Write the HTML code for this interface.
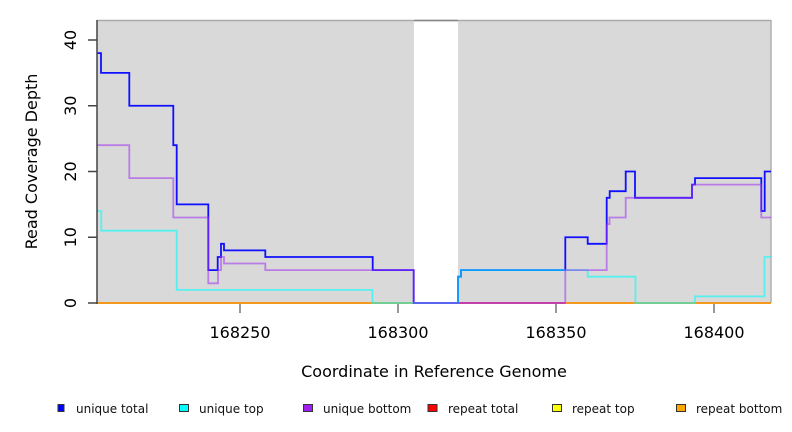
<!DOCTYPE html>
<html><head><meta charset="utf-8"><style>
html,body{margin:0;padding:0;background:#fff;}
svg{display:block;font-family:"DejaVu Sans","Liberation Sans",sans-serif;}
</style></head><body>
<svg width="792" height="432" viewBox="0 0 792 432" xmlns="http://www.w3.org/2000/svg">
<!-- background regions -->
<rect x="97" y="20" width="317" height="283" fill="#d9d9d9"/>
<rect x="458" y="20" width="313" height="283" fill="#d9d9d9"/>
<line x1="97" y1="20.5" x2="771" y2="20.5" stroke="#ababab" stroke-width="1.5"/>
<line x1="414" y1="20.5" x2="458" y2="20.5" stroke="#888" stroke-width="1.5"/>
<line x1="771" y1="20" x2="771" y2="303" stroke="#b0b0b0" stroke-width="1.5"/>

<!-- repeat lines at 0 -->
<line x1="97" y1="303" x2="771" y2="303" stroke="#f39a1e" stroke-width="2"/>
<line x1="458" y1="303" x2="565" y2="303" stroke="#e0506a" stroke-width="2"/>

<!-- unique total -->
<path d="M97,53.15 H101 V72.9 H129.3 V105.75 H173.3 V145.2 H176.7 V204.4 H208.3 V270.1 H217.7 V257 H221 V243.8 H224 V250.4 H265.3 V257 H372.7 V270.1 H413.7 V303 H458 V276.7 H461 V270.1 H565.3 V237.25 H587.7 V243.8 H606.7 V197.8 H609.7 V191.2 H625.7 V171.5 H635 V197.8 H692 V184.65 H695 V178.1 H761.3 V211 H764.7 V171.5 H771" fill="none" stroke="#1010ff" stroke-width="1.8"/>
<!-- unique top -->
<path d="M97,211 H101.3 V230.7 H176.7 V289.85 H372.5 V303 H458 V276.7 H461 V270.1 H587.7 V276.7 H635.5 V303 H695 V296.4 H764.5 V257 H771" fill="none" stroke="#00ffff" stroke-opacity="0.6" stroke-width="1.8"/>
<!-- unique bottom -->
<path d="M97,145.2 H129.3 V178.1 H173.3 V217.5 H208.3 V283.3 H218 V270.1 H221 V257 H224 V263.5 H265.3 V270.1 H413.7 V303 H565.3 V270.1 H606.7 V224.1 H609.5 V217.5 H625.7 V197.8 H692 V184.65 H761.3 V217.5 H771" fill="none" stroke="#a030f0" stroke-opacity="0.55" stroke-width="1.8"/>

<!-- y axis -->
<line x1="97" y1="20" x2="97" y2="304" stroke="#444" stroke-width="1.5"/>
<g stroke="#444" stroke-width="1.5">
<line x1="88" y1="303" x2="97" y2="303"/>
<line x1="88" y1="237.25" x2="97" y2="237.25"/>
<line x1="88" y1="171.5" x2="97" y2="171.5"/>
<line x1="88" y1="105.75" x2="97" y2="105.75"/>
<line x1="88" y1="40" x2="97" y2="40"/>
</g>
<g font-size="16" fill="#000" text-anchor="middle">
<text transform="translate(76,303) rotate(-90)">0</text>
<text transform="translate(76,237.25) rotate(-90)">10</text>
<text transform="translate(76,171.5) rotate(-90)">20</text>
<text transform="translate(76,105.75) rotate(-90)">30</text>
<text transform="translate(76,40) rotate(-90)">40</text>
<text transform="translate(37,161.5) rotate(-90)">Read Coverage Depth</text>
</g>

<!-- x axis -->
<g stroke="#999" stroke-width="2">
<line x1="240" y1="304" x2="240" y2="313"/>
<line x1="398" y1="304" x2="398" y2="313"/>
<line x1="556" y1="304" x2="556" y2="313"/>
<line x1="714" y1="304" x2="714" y2="313"/>
</g>
<g font-size="16" fill="#000" text-anchor="middle">
<text x="240" y="338">168250</text>
<text x="398" y="338">168300</text>
<text x="556" y="338">168350</text>
<text x="714" y="338">168400</text>
<text x="434" y="377">Coordinate in Reference Genome</text>
</g>

<!-- legend -->
<g stroke="#333" stroke-width="1">
<rect x="58" y="404.5" width="6" height="7" fill="#0000ff"/>
<rect x="179.5" y="404.5" width="9" height="7" fill="#00ffff"/>
<rect x="303.5" y="404.5" width="9" height="7" fill="#a020f0"/>
<rect x="428" y="404.5" width="9" height="7" fill="#ff0000"/>
<rect x="552.5" y="404.5" width="9" height="7" fill="#ffff00"/>
<rect x="676.5" y="404.5" width="9" height="7" fill="#ffa500"/>
</g>
<g font-size="12" fill="#111">
<text x="76" y="413">unique total</text>
<text x="199" y="413">unique top</text>
<text x="323" y="413">unique bottom</text>
<text x="448" y="413">repeat total</text>
<text x="572" y="413">repeat top</text>
<text x="696" y="413">repeat bottom</text>
</g>
</svg>
</body></html>
